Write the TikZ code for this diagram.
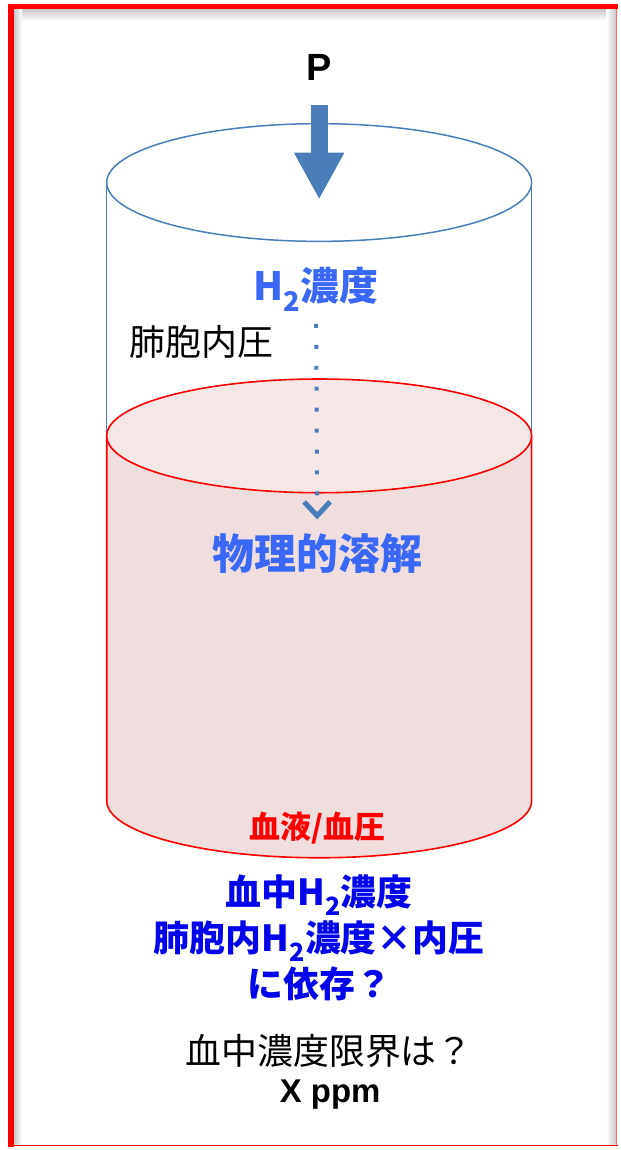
\documentclass[tikz,border=0pt]{standalone}
\usepackage{fontspec}
\usepackage{tikz}
\usetikzlibrary{arrows.meta, positioning, calc}
\setmainfont{Liberation Sans}
\newfontfamily\jpfont{Noto Sans CJK JP}
\definecolor{flowblue}{RGB}{74,126,187}
\definecolor{labelblue}{RGB}{56,104,245}
\definecolor{deepblue}{RGB}{5,5,235}
\definecolor{bloodred}{RGB}{255,0,0}
\definecolor{plasma}{RGB}{240,221,221}
\definecolor{plasmatop}{RGB}{246,231,231}
\definecolor{framegray}{RGB}{200,200,200}
\tikzset{
  caption/.style={inner sep=0pt, text centered},
  jplabel/.style={caption, font=\jpfont\fontsize{#1}{#1}\selectfont},
  jpbold/.style={caption, font=\jpfont\bfseries\fontsize{#1}{#1}\selectfont},
  gasline/.style={draw=flowblue, line width=1.5pt},
  bloodline/.style={draw=bloodred, line width=1.6pt},
  pusharrow/.style={-{Triangle[width=47pt, length=47pt]}, line width=17pt, color=flowblue},
  dotflow/.style={-{Straight Barb[length=14pt, width=26pt, line width=5pt]}, line width=4pt,
    dash pattern=on 4pt off 17pt, color=flowblue}
}

\begin{document}
\begin{tikzpicture}[x=1pt, y=-1pt]
  % page frame
  \fill[white] (0,0) rectangle (620,1150);
  \shade[top color=framegray, bottom color=white] (14,9) rectangle (617,21);
  \shade[left color=framegray, right color=white] (14,9) rectangle (22,1147);
  \shade[left color=white, right color=framegray] (608,9) rectangle (617,1147);
  \draw[bloodred, line width=1.5pt] (8,1148.5) -- (620,1148.5);
  \draw[bloodred!60, line width=1.5pt] (618,9) -- (618,1148);
  \draw[bloodred, line width=5pt] (8,6.5) -- (620,6.5);
  \draw[bloodred, line width=6pt] (11,4) -- (11,1150);

  % alveolar gas (upper cylinder)
  \draw[gasline] (320,183) ellipse[x radius=213, y radius=59];
  \draw[gasline] (107,183) -- (107,437);
  \draw[gasline] (533,183) -- (533,437);

  % blood (lower cylinder)
  \fill[plasma] (107,437) -- (107,803)
    arc[start angle=180, end angle=0, x radius=213, y radius=57] -- (533,437) -- cycle;
  \draw[bloodline] (107,437) -- (107,803)
    arc[start angle=180, end angle=0, x radius=213, y radius=57] -- (533,437);
  \draw[bloodline, fill=plasmatop] (320,437) ellipse[x radius=213, y radius=57];

  % labels
  \node[caption, font=\bfseries\fontsize{38}{38}\selectfont] (p) at (320,68) {P};
  \node[jpbold=39, text=labelblue] (h2) at (317,290) {H\textsubscript{2}濃度};
  \node[jplabel=36, anchor=west] (alv) at (130,343) {肺胞内圧};
  \node[jpbold=42, text=labelblue] (phys) at (318,555) {物理的溶解};
  \node[jpbold=31, text=bloodred] (blood) at (318,830) {血液/血圧};
  \node[text=deepblue, caption, align=center,
    font=\jpfont\bfseries\fontsize{36}{46}\selectfont] (dep) at (320,940)
    {血中H\textsubscript{2}濃度\\肺胞内H\textsubscript{2}濃度×内圧\\に依存？};
  \node[jplabel=36] (limit) at (330,1054) {血中濃度限界は？};
  \node[caption, font=\bfseries\fontsize{33}{33}\selectfont] (ppm) at (331,1097) {X ppm};

  % pressure and diffusion
  \coordinate (ptip) at (320,200);
  \draw[pusharrow, shorten <=24pt] (p.south) -- (ptip);
  \draw[dotflow] ([yshift=-12pt]h2.south) -- ([yshift=14pt]phys.north);
\end{tikzpicture}
\end{document}
